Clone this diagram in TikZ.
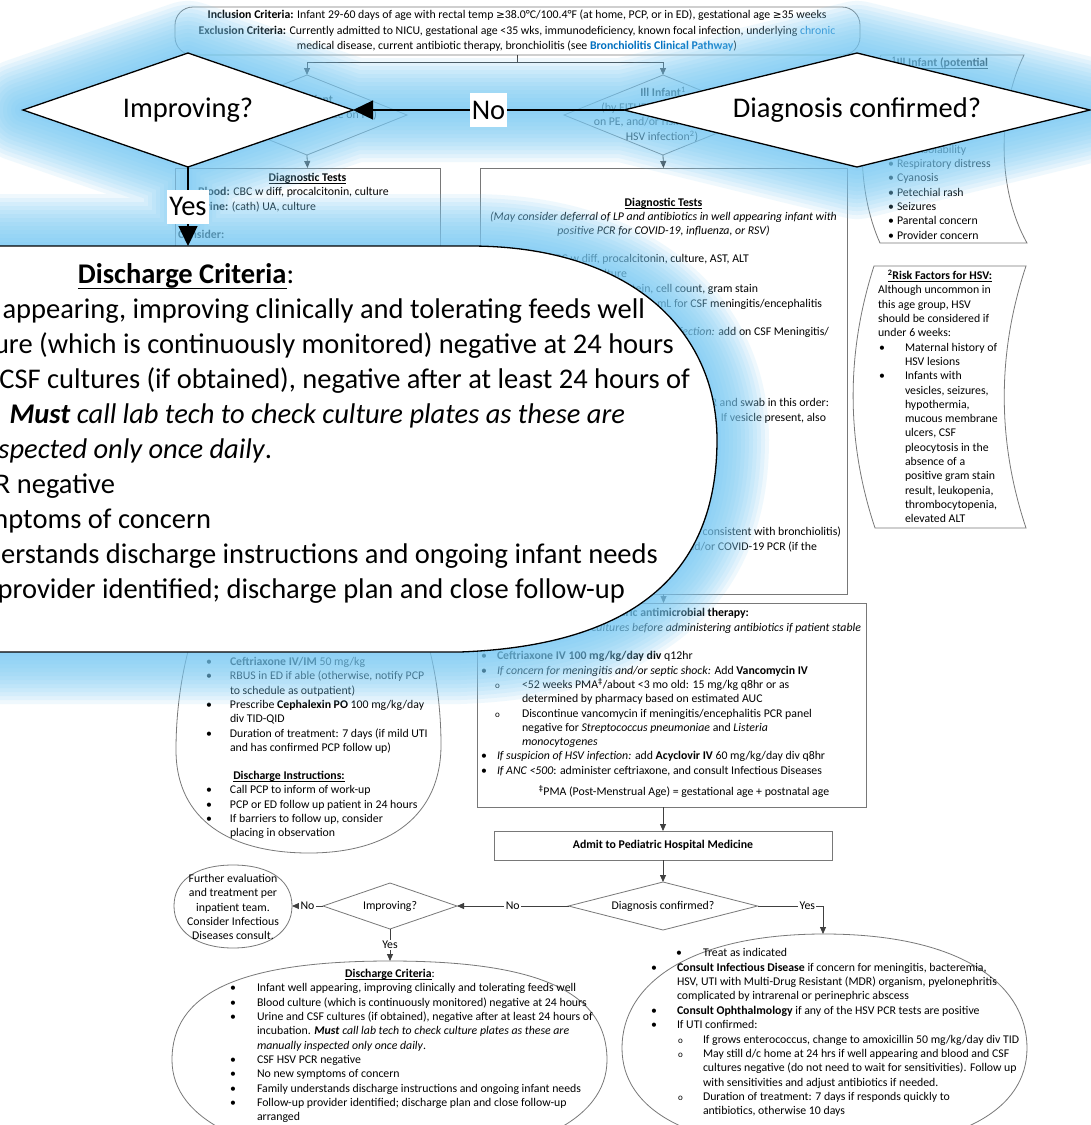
\documentclass[tikz,border=0pt]{standalone}
\usepackage{fontspec}
\setmainfont{Carlito}
\newfontfamily\symf{DejaVu Sans}
\usetikzlibrary{arrows.meta,shapes.geometric}

\definecolor{linkblue}{RGB}{0,112,192}
\definecolor{glowblue}{RGB}{119,202,245}
\definecolor{edgegray}{RGB}{120,120,120}
\definecolor{wire}{RGB}{64,64,64}

\newcommand\tx{\fontsize{11.8}{14.3}\selectfont}
\newcommand\bigtx{\fontsize{28.5}{35}\selectfont}
\newcommand\gesym{{\symf\fontsize{10.5}{12}\selectfont ≥}}
\newcommand\dagsym{{\symf ‡}}
\newcommand\ulx[3]{\setbox0=\hbox{#3}\rlap{\vrule height -#1 depth \dimexpr#1+#2\relax width \wd0}\box0}
\newcommand\uln[1]{\ulx{1.7pt}{0.75pt}{#1}}
\newcommand\ulbig[1]{\ulx{4pt}{1.8pt}{#1}}
\newcommand\bul[1]{\makebox[#1pt][l]{•}}
\newcommand\subb[1]{\makebox[#1pt][l]{\fontsize{9}{9}\selectfont o}}

% one text line per node: x, visual centre y, text
\newcounter{tl}
\newcommand\tw[3]{\stepcounter{tl}\node[txt,anchor=base west] (t\thetl) at (#1,#2+3.6) {#3};}
\newcommand\te[3]{\stepcounter{tl}\node[txt,anchor=base east] (t\thetl) at (#1,#2+3.6) {#3};}
\newcommand\tc[3]{\stepcounter{tl}\node[txt,anchor=base] (t\thetl) at (#1,#2+3.6) {#3};}
\newcommand\tb[3]{\stepcounter{tl}\node[bigtxt,anchor=base east] (t\thetl) at (#1,#2+8.5) {#3};}

\begin{document}
\begin{tikzpicture}[x=1pt,y=-1pt,
  txt/.style={font=\tx,inner sep=0pt,outer sep=0pt},
  bigtxt/.style={font=\bigtx,inner sep=0pt,outer sep=0pt},
  box/.style={draw=edgegray,line width=0.8pt,inner sep=0pt,outer sep=0pt},
  dia/.style={diamond,draw=edgegray,line width=0.8pt,inner sep=0pt,outer sep=0pt,font=\tx},
  arr/.style={draw=wire,line width=0.8pt,-{Triangle[length=7pt,width=6pt]}},
  lbl/.style={fill=white,inner sep=1.5pt,font=\tx},
  bigdia/.style={diamond,draw=black,fill=white,line width=1.3pt,inner sep=0pt,outer sep=0pt,font=\bigtx},
  bigarr/.style={draw=black,line width=1.3pt,-{Triangle[length=20pt,width=19pt]}},
  biglbl/.style={fill=white,inner sep=2pt,minimum height=34pt,font=\bigtx},
  oval/.style={draw=edgegray,line width=0.8pt}
]
\useasboundingbox (0,0) rectangle (1091,1125);
\clip (0,0) rectangle (1091,1125);
\fill[white] (0,0) rectangle (1091,1125);

% ---------------- pathway boxes ----------------
\node[box,rounded corners=18pt,minimum width=685pt,minimum height=48pt] (incl) at (517.5,31) {};
\tc{517}{15}{\textbf{Inclusion Criteria:} Infant 29-60 days of age with rectal temp \gesym38.0°C/100.4°F (at home, PCP, or in ED), gestational age \gesym35 weeks}
\tc{517}{30.5}{\textbf{Exclusion Criteria:} Currently admitted to NICU, gestational age <35 wks, immunodeficiency, known focal infection, underlying \textcolor{linkblue}{chronic}}
\tc{517}{46}{medical disease, current antibiotic therapy, bronchiolitis (see \textcolor{linkblue}{\textbf{Bronchiolitis Clinical Pathway}})}

\node[dia,shape aspect=2.5,minimum width=200pt,minimum height=80pt] (well) at (307,115) {};
\te{333}{100}{\textbf{Well Infant}}
\te{377}{115}{(no ill appearance on PE)}

\node[dia,shape aspect=2.5,minimum width=198pt,minimum height=80pt] (ill) at (663,115) {};
\tc{663}{93}{\textbf{Ill Infant}\textsuperscript{1}}
\tc{662}{107.5}{(by EITHER ill appearance}
\tc{662}{122}{on PE, and/or risk factors for}
\tc{662}{137}{HSV infection\textsuperscript{2})}

\node[box,minimum width=265pt,minimum height=392pt] (diagL) at (307.5,364) {};
\tc{307.5}{177.5}{\textbf{\uln{Diagnostic Tests}}}
\tw{198}{192}{\textbf{Blood:} CBC w diff, procalcitonin, culture}
\tw{198}{206.5}{\textbf{Urine:} (cath) UA, culture}
\tw{178}{234.5}{\textbf{Consider:}}

\node[box,minimum width=367pt,minimum height=426pt] (diagR) at (663.5,381) {};
\tc{663.5}{202.7}{\textbf{\uln{Diagnostic Tests}}}
\tc{663.5}{217}{\textit{(May consider deferral of LP and antibiotics in well appearing infant with}}
\tc{663.5}{231.3}{\textit{positive PCR for COVID-19, influenza, or RSV)}}
\te{749}{259}{\textbf{Blood:} CBC w diff, procalcitonin, culture, AST, ALT}
\te{627}{274}{UA, culture}
\te{758}{289}{protein, cell count, gram stain}
\te{822}{303.5}{mL for CSF meningitis/encephalitis}
\te{829}{332}{\textit{infection:} add on CSF Meningitis/}
\te{829}{403}{PCR and swab in this order:}
\te{826}{418}{rectum. If vesicle present, also}
\te{841}{532}{symptoms consistent with bronchiolitis)}
\te{817}{547}{and/or COVID-19 PCR (if the}

\node[box,minimum width=389pt,minimum height=204pt] (anti) at (671.5,705) {};
\tc{675}{613.3}{\textbf{Empiric antimicrobial therapy:}}
\te{861}{627.6}{\textit{Obtain cultures before administering antibiotics if patient stable}}
\tw{481}{656.2}{\bul{16}\textbf{Ceftriaxone IV 100 mg/kg/day div} q12hr}
\tw{481}{670.5}{\bul{16}\textit{If concern for meningitis and/or septic shock:} Add \textbf{Vancomycin IV}}
\tw{495}{684.8}{\subb{27}<52 weeks PMA\textsuperscript{\dagsym}/about <3 mo old: 15 mg/kg q8hr or as}
\tw{522}{699.1}{determined by pharmacy based on estimated AUC}
\tw{495}{713.4}{\subb{27}Discontinue vancomycin if meningitis/encephalitis PCR panel}
\tw{522}{727.7}{negative for \textit{Streptococcus pneumoniae} and \textit{Listeria}}
\tw{522}{742}{\textit{monocytogenes}}
\tw{481}{756.3}{\bul{16}\textit{If suspicion of HSV infection:} add \textbf{Acyclovir IV} 60 mg/kg/day div q8hr}
\tw{481}{770.6}{\bul{16}\textit{If ANC <500}: administer ceftriaxone, and consult Infectious Diseases}
\tc{684}{792}{\textsuperscript{\dagsym}PMA (Post-Menstrual Age) = gestational age + postnatal age}

\node[box,minimum width=338pt,minimum height=29pt,font=\tx] (admit) at (663,845.5) {\textbf{Admit to Pediatric Hospital Medicine}};

% side notes
\draw[oval] (881,55) -- (1024,55) .. controls (997,110) and (997,190) .. (1027,243) -- (880,243) .. controls (856,190) and (856,110) .. (881,55) -- cycle;
\tc{940}{63}{\textbf{\uln{\textsuperscript{1}Ill Infant (potential}}}
\tw{888}{149.6}{\bul{9}Inconsolability}
\tw{888}{164}{\bul{9}Respiratory distress}
\tw{888}{178.3}{\bul{9}Cyanosis}
\tw{888}{192.6}{\bul{9}Petechial rash}
\tw{888}{207}{\bul{9}Seizures}
\tw{888}{221.3}{\bul{9}Parental concern}
\tw{888}{235.6}{\bul{9}Provider concern}

\draw[oval] (874,266) -- (1026,266) .. controls (997,353) and (997,441) .. (1026,528) -- (875,528) .. controls (846,441) and (846,353) .. (874,266) -- cycle;
\tc{940}{276}{\textbf{\uln{\textsuperscript{2}Risk Factors for HSV:}}}
\tw{878}{290.3}{Although uncommon in}
\tw{878}{304.6}{this age group, HSV}
\tw{878}{318.9}{should be considered if}
\tw{878}{333.2}{under 6 weeks:}
\tw{879}{347.5}{\bul{26}Maternal history of}
\tw{905}{361.8}{HSV lesions}
\tw{879}{376.1}{\bul{26}Infants with}
\tw{905}{390.4}{vesicles, seizures,}
\tw{905}{404.7}{hypothermia,}
\tw{905}{419}{mucous membrane}
\tw{905}{433.3}{ulcers, CSF}
\tw{905}{447.6}{pleocytosis in the}
\tw{905}{461.9}{absence of a}
\tw{905}{476.2}{positive gram stain}
\tw{905}{490.5}{result, leukopenia,}
\tw{905}{504.8}{thrombocytopenia,}
\tw{905}{519.1}{elevated ALT}

% outpatient treatment oval
\draw[oval] (309,520) .. controls (220,520) and (176,640) .. (176,750) .. controls (176,820) and (230,853) .. (309,853) .. controls (390,853) and (441,815) .. (441,745) .. controls (441,640) and (400,520) .. (309,520) -- cycle;
\tw{206}{662}{\bul{24}\textbf{Ceftriaxone IV/IM} 50 mg/kg}
\tw{206}{676.3}{\bul{24}RBUS in ED if able (otherwise, notify PCP}
\tw{230}{690.6}{to schedule as outpatient)}
\tw{206}{704.9}{\bul{24}Prescribe \textbf{Cephalexin PO} 100 mg/kg/day}
\tw{230}{719.2}{div TID-QID}
\tw{206}{733.5}{\bul{24}Duration of treatment: 7 days (if mild UTI}
\tw{230}{747.8}{and has confirmed PCP follow up)}
\tc{289}{776}{\textbf{\uln{Discharge Instructions:}}}
\tw{206}{790.3}{\bul{24}Call PCP to inform of work-up}
\tw{206}{804.6}{\bul{24}PCP or ED follow up patient in 24 hours}
\tw{206}{818.9}{\bul{24}If barriers to follow up, consider}
\tw{230}{833.2}{placing in observation}

% inpatient decisions
\node[dia,shape aspect=2.9,minimum width=134pt,minimum height=46pt] (dImp) at (390,906) {Improving?};
\node[dia,shape aspect=3.9,minimum width=189pt,minimum height=48pt] (dDiag) at (663,906) {Diagnosis confirmed?};

\draw[oval] (233,865) .. controls (272,865) and (292,882) .. (292,906) .. controls (292,932) and (268,948) .. (233,948) .. controls (198,948) and (174,932) .. (174,906) .. controls (174,882) and (194,865) .. (233,865) -- cycle;
\node[txt,align=center] (further) at (233,907) {Further evaluation\\and treatment per\\inpatient team.\\Consider Infectious\\Diseases consult.};
\coordinate (furtherE) at (292,906);

\draw[oval] (390,961) .. controls (545,961) and (607,995) .. (607,1060) .. controls (607,1120) and (530,1160) .. (390,1160) .. controls (250,1160) and (172,1120) .. (172,1060) .. controls (172,995) and (235,961) .. (390,961) -- cycle;
\coordinate (dischTop) at (390,961);
\tc{390}{974}{\textbf{\uln{Discharge Criteria}}:}
\tw{230}{988.3}{\bul{27}Infant well appearing, improving clinically and tolerating feeds well}
\tw{230}{1002.6}{\bul{27}Blood culture (which is continuously monitored) negative at 24 hours}
\tw{230}{1016.9}{\bul{27}Urine and CSF cultures (if obtained), negative after at least 24 hours of}
\tw{257}{1031.2}{incubation. \textbf{\textit{Must}} \textit{call lab tech to check culture plates as these are}}
\tw{257}{1045.5}{\textit{manually inspected only once daily}.}
\tw{230}{1059.8}{\bul{27}CSF HSV PCR negative}
\tw{230}{1074.1}{\bul{27}No new symptoms of concern}
\tw{230}{1088.4}{\bul{27}Family understands discharge instructions and ongoing infant needs}
\tw{230}{1102.7}{\bul{27}Follow-up provider identified; discharge plan and close follow-up}
\tw{257}{1117}{arranged}

\draw[oval] (824,934) .. controls (962,934) and (1027,985) .. (1027,1048) .. controls (1027,1110) and (960,1150) .. (824,1150) .. controls (690,1150) and (622,1110) .. (622,1048) .. controls (622,985) and (688,934) .. (824,934) -- cycle;
\coordinate (treatTop) at (823,934);
\tw{676}{952.7}{\bul{27}Treat as indicated}
\tw{651}{967.7}{\bul{26}\textbf{Consult Infectious Disease} if concern for meningitis, bacteremia,}
\tw{677}{981.7}{HSV, UTI with Multi-Drug Resistant (MDR) organism, pyelonephritis}
\tw{677}{996.2}{complicated by intrarenal or perinephric abscess}
\tw{651}{1010.7}{\bul{26}\textbf{Consult Ophthalmology} if any of the HSV PCR tests are positive}
\tw{651}{1025.2}{\bul{26}If UTI confirmed:}
\tw{678}{1039.5}{\subb{25}If grows enterococcus, change to amoxicillin 50 mg/kg/day div TID}
\tw{678}{1053.9}{\subb{25}May still d/c home at 24 hrs if well appearing and blood and CSF}
\tw{703}{1068.2}{cultures negative (do not need to wait for sensitivities). Follow up}
\tw{703}{1082.5}{with sensitivities and adjust antibiotics if needed.}
\tw{678}{1096.8}{\subb{25}Duration of treatment: 7 days if responds quickly to}
\tw{703}{1111.1}{antibiotics, otherwise 10 days}

% connectors
\coordinate (split) at (517.5,62);
\draw[draw=wire,line width=0.8pt] (incl.south) -- (split);
\draw[arr] (split) -| (well.north);
\draw[arr] (split) -| (ill.north);
\draw[arr] (well.south) -- (diagL.north);
\draw[arr] (ill.south) -- (diagR.north);
\draw[arr] (diagR.south) -- (diagR.south |- anti.north);
\draw[arr] (admit.north |- anti.south) -- (admit.north);
\draw[arr] (admit.south) -- (dDiag.north);
\draw[arr] (dDiag.west) -- node[lbl]{No} (dImp.east);
\draw[arr] (dImp.west) -- node[lbl]{No} (furtherE);
\draw[arr] (dImp.south) -- node[lbl]{Yes} (dischTop);
\draw[arr] (dDiag.east) -| node[lbl,pos=0.38]{Yes} (treatTop);

% ---------------- soft blue halo round the enlarged callouts ----------------
\foreach \w in {104,96,88,80,72,64,56,48,40,32,24,16,8}{
  \draw[glowblue,opacity=0.115,line width=\w pt,line join=round,line cap=round]
    (23,110) -- (188,53) -- (353,110) -- (188,167) -- cycle
    (624,110) -- (857,53) -- (1090,110) -- (857,167) -- cycle
    (353,110) -- (624,110)
    (188,167) -- (188,246)
    (-200,246) -- (470,246) .. controls (630,246) and (717,330) .. (717,440) .. controls (717,560) and (650,645) .. (460,652) -- (-200,652);
}

% ---------------- enlarged callouts ----------------
\draw[draw=black,fill=white,line width=1.3pt] (-200,246) -- (470,246) .. controls (630,246) and (717,330) .. (717,440) .. controls (717,560) and (650,645) .. (460,652) -- (-200,652) -- cycle;
\coordinate (circTop) at (188,246);
\node[bigtxt,anchor=base] (bigTitle) at (186,283.5) {\textbf{\ulbig{Discharge Criteria}}:};
\tb{645}{310}{Infant well appearing, improving clinically and tolerating feeds well}
\tb{674}{345}{Blood culture (which is continuously monitored) negative at 24 hours}
\tb{690}{380}{Urine and CSF cultures (if obtained), negative after at least 24 hours of}
\tb{625}{415}{incubation. \textbf{\textit{Must}} \textit{call lab tech to check culture plates as these are}}
\tb{272}{450}{\textit{manually inspected only once daily}.}
\tb{115}{485}{CSF HSV PCR negative}
\tb{211}{520}{No new symptoms of concern}
\tb{658}{555}{Family understands discharge instructions and ongoing infant needs}
\tb{625}{590}{Follow-up provider identified; discharge plan and close follow-up}

\node[bigdia,shape aspect=2.9,minimum width=330pt,minimum height=114pt] (bImp) at (188,110) {Improving?};
\node[bigdia,shape aspect=4.1,minimum width=466pt,minimum height=114pt] (bDiag) at (857,110) {Diagnosis confirmed?};
\draw[bigarr] (bDiag.west) -- node[biglbl]{No} (bImp.east);
\draw[bigarr] (bImp.south) -- node[biglbl]{Yes} (circTop);
\end{tikzpicture}
\end{document}
